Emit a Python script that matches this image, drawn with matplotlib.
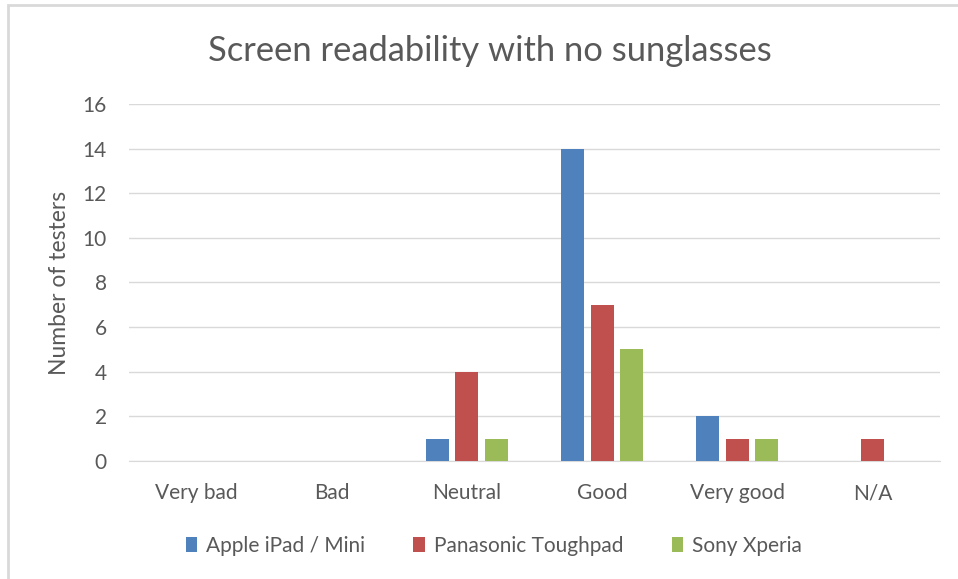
import matplotlib.pyplot as plt
import numpy as np
from matplotlib.patches import Rectangle

# Data
categories = ['Very bad', 'Bad', 'Neutral', 'Good', 'Very good', 'N/A']
series_names = ['Apple iPad / Mini', 'Panasonic Toughpad', 'Sony Xperia']
apple = [0, 0, 1, 14, 2, 0]
panasonic = [0, 0, 4, 7, 1, 1]
sony = [0, 0, 1, 5, 1, 0]
colors = ['#4F81BD', '#C0504D', '#9BBB59']

plt.rcParams['font.family'] = ['Lato', 'DejaVu Sans']
text_col = '#595959'

fig = plt.figure(figsize=(9.58, 5.79), dpi=100)
ax = fig.add_axes([0.1347, 0.2038, 0.8465, 0.6166])

x = np.arange(len(categories))
width = 0.17
offsets = [-0.218, 0.0, 0.218]
for vals, off, col, name in zip([apple, panasonic, sony], offsets, colors, series_names):
    ax.bar(x + off, vals, width, color=col, label=name, zorder=3)

ax.set_xlim(-0.5, len(categories) - 0.5)
ax.set_ylim(0, 16)
ax.set_yticks(range(0, 17, 2))
ax.set_xticks(x)
ax.set_xticklabels(categories)
ax.grid(axis='y', color='#D9D9D9', linewidth=1, zorder=0)
for side in ['top', 'right', 'left']:
    ax.spines[side].set_visible(False)
ax.spines['bottom'].set_color('#D9D9D9')
ax.tick_params(axis='both', length=0, labelsize=15, colors=text_col)
ax.tick_params(axis='x', pad=16)
ax.tick_params(axis='y', pad=16)
ax.set_ylabel('Number of testers', fontsize=16.5, color=text_col, labelpad=9)

fig.text(0.511, 0.912, 'Screen readability with no sunglasses', ha='center', va='center',
         fontsize=24.8, color=text_col)

ax.legend(loc='center', bbox_to_anchor=(0.45, -0.238), ncol=3, frameon=False,
          fontsize=15, labelcolor=text_col, handlelength=0.55, handleheight=0.7,
          handletextpad=0.45, columnspacing=2.3)

# light chart border (only top and left visible in the reference)
fig.patches.append(Rectangle((8 / 958, -0.1), 1.2, 1.1 - 5 / 579, transform=fig.transFigure,
                             fill=False, edgecolor='#D9D9D9', linewidth=2))

fig.savefig('out.png', dpi=100)
